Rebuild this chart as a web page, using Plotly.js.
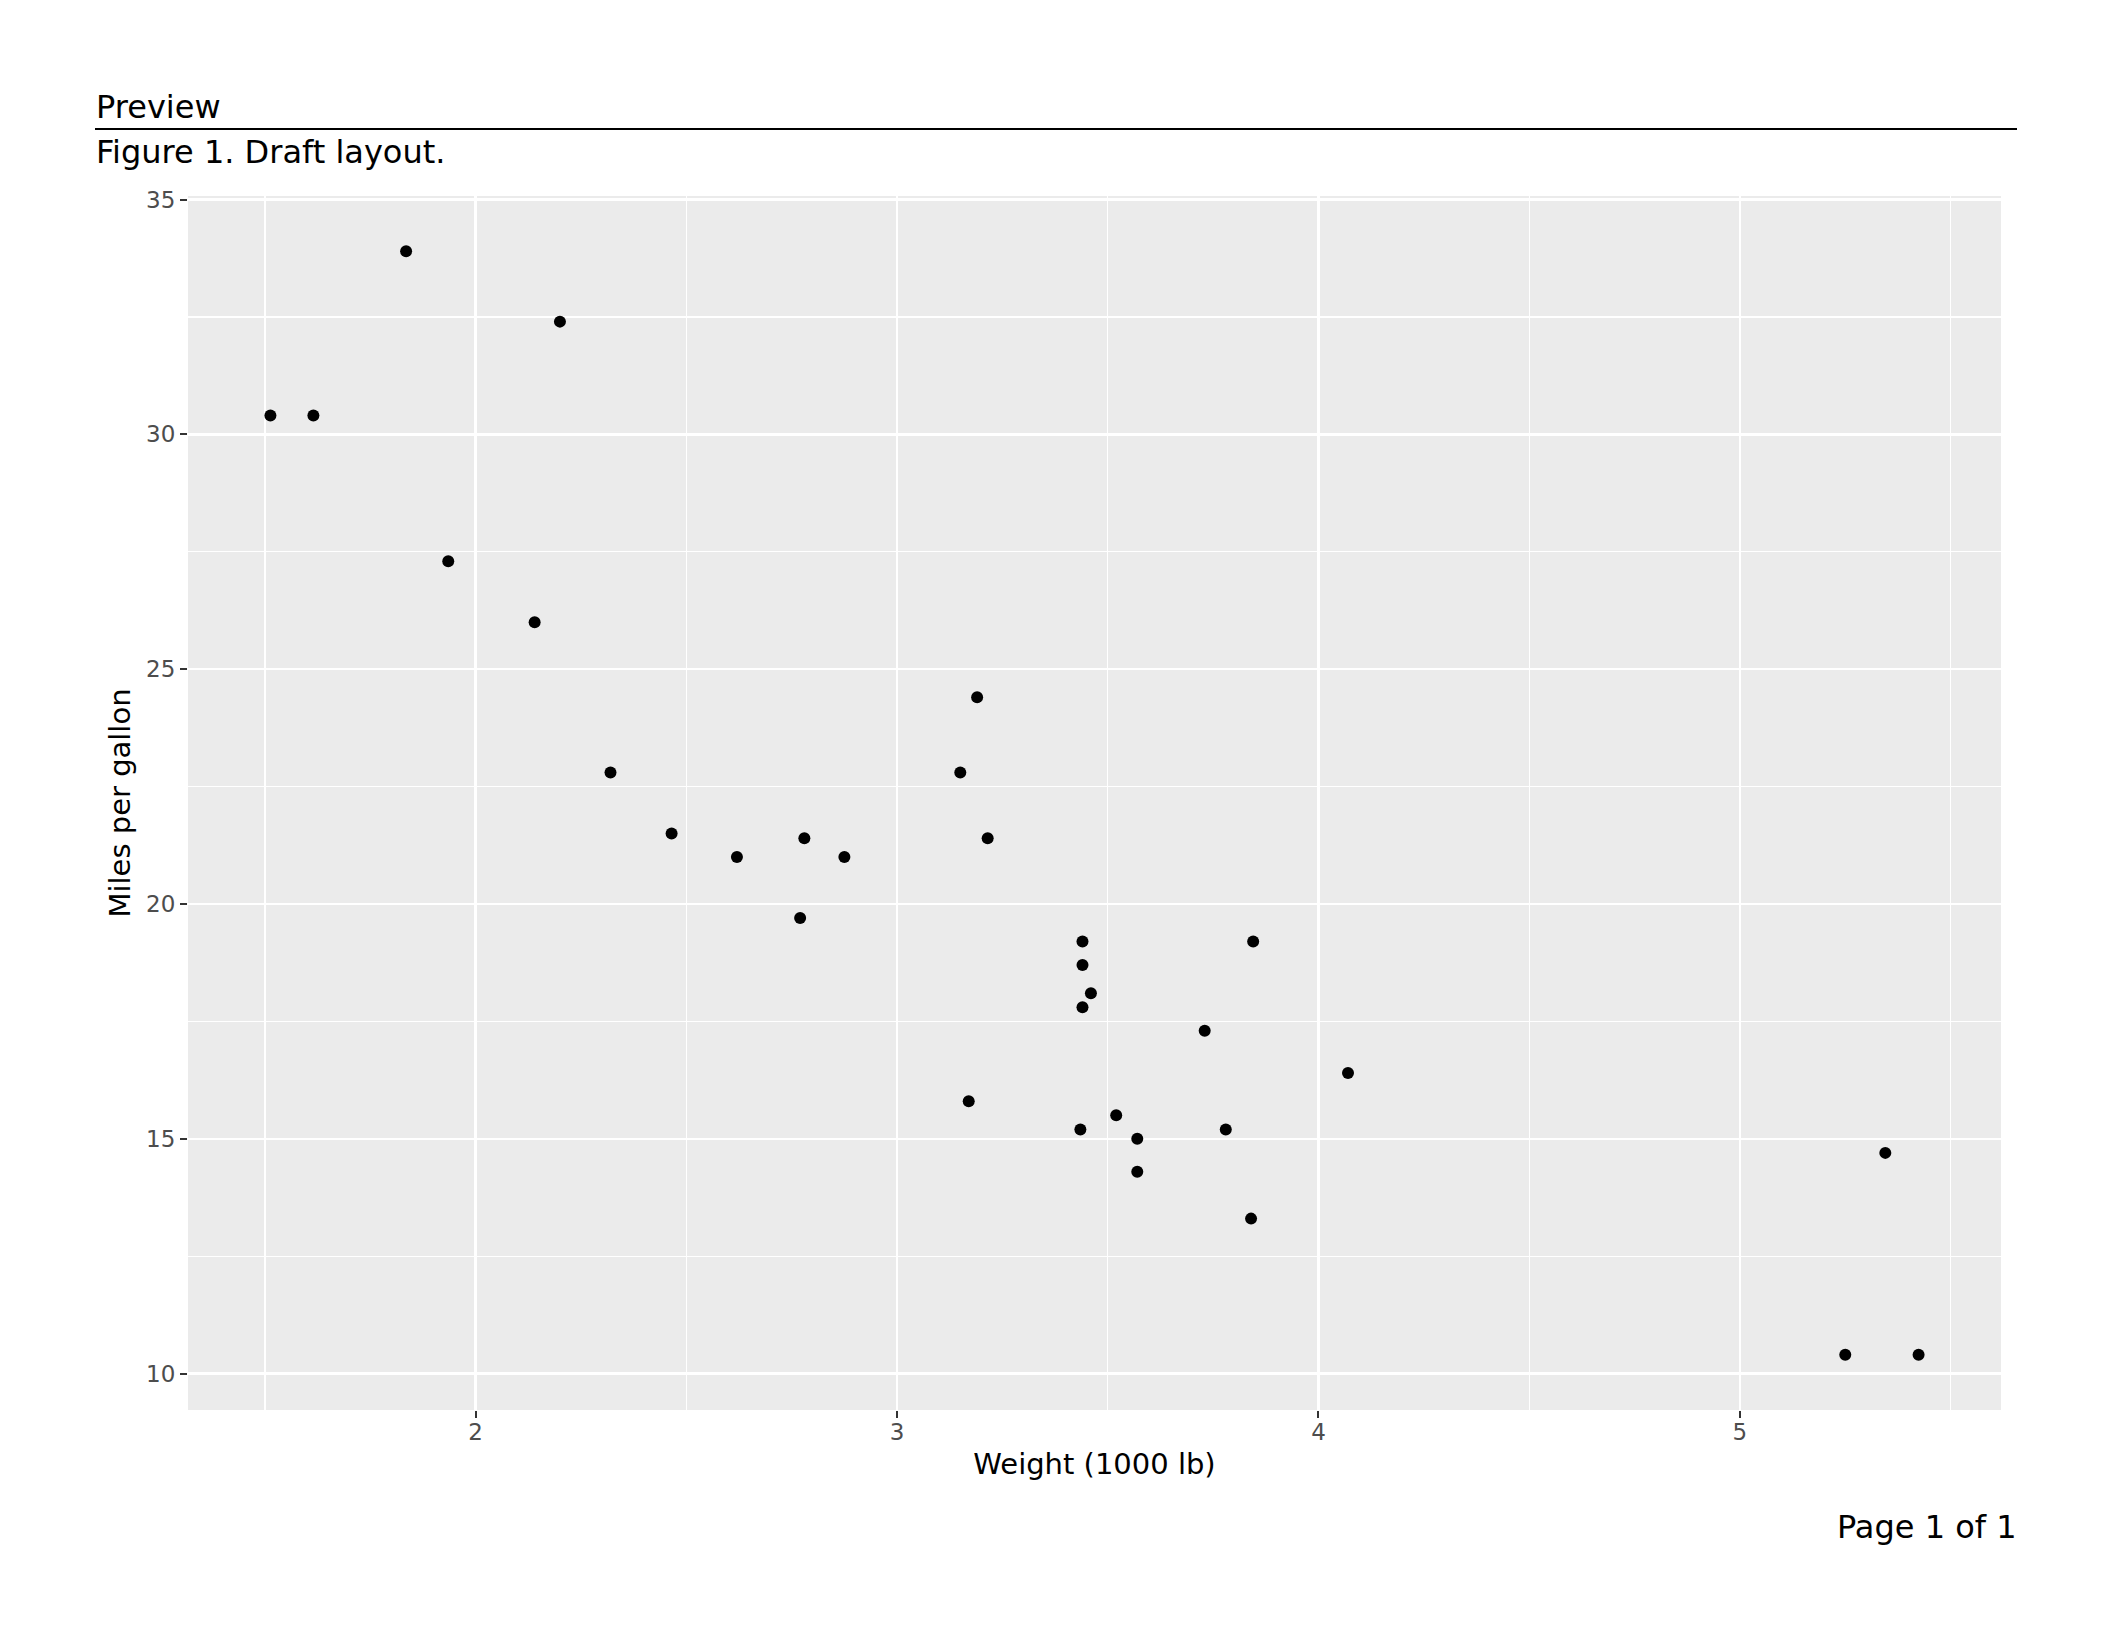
<!DOCTYPE html>
<html>
<head>
<meta charset="utf-8">
<script src="https://cdn.plot.ly/plotly-3.0.1.min.js"></script>
<style>html,body{margin:0;padding:0;background:#fff;}#chart{width:2112px;height:1632px;}</style>
</head>
<body>
<div id="chart"></div>
<script>
// mtcars: weight (1000 lb) and miles per gallon
var carNames = ["Mazda RX4","Mazda RX4 Wag","Datsun 710","Hornet 4 Drive","Hornet Sportabout","Valiant","Duster 360","Merc 240D","Merc 230","Merc 280","Merc 280C","Merc 450SE","Merc 450SL","Merc 450SLC","Cadillac Fleetwood","Lincoln Continental","Chrysler Imperial","Fiat 128","Honda Civic","Toyota Corolla","Toyota Corona","Dodge Challenger","AMC Javelin","Camaro Z28","Pontiac Firebird","Fiat X1-9","Porsche 914-2","Lotus Europa","Ford Pantera L","Ferrari Dino","Maserati Bora","Volvo 142E"];
var weight = [2.620,2.875,2.320,3.215,3.440,3.460,3.570,3.190,3.150,3.440,3.440,4.070,3.730,3.780,5.250,5.424,5.345,2.200,1.615,1.835,2.465,3.520,3.435,3.840,3.845,1.935,2.140,1.513,3.170,2.770,3.570,2.780];
var mpg = [21.0,21.0,22.8,21.4,18.7,18.1,14.3,24.4,22.8,19.2,17.8,16.4,17.3,15.2,10.4,10.4,14.7,32.4,30.4,33.9,21.5,15.5,15.2,13.3,19.2,27.3,26.0,30.4,15.8,19.7,15.0,21.4];
var xTickVals = [2,3,4,5];
var yTickVals = [10,15,20,25,30,35];

var W = 2112, H = 1632;
var M = {l:188, r:111, t:196, b:222};
var PW = W - M.l - M.r, PH = H - M.t - M.b;
function px(x){ return (x - M.l) / PW; }
function py(y){ return (H - M.b - y) / PH; }

// ggplot-style expansion of 5%
function expand(arr){ var mn=Math.min.apply(null,arr), mx=Math.max.apply(null,arr), d=(mx-mn)*0.05; return [mn-d, mx+d]; }

var font = "DejaVu Sans, sans-serif";

var trace = {
  type: 'scatter', mode: 'markers',
  x: weight, y: mpg, text: carNames,
  marker: {color: '#000000', size: 12, line: {width: 0}},
  hoverinfo: 'text+x+y'
};

var layout = {
  width: W, height: H,
  margin: M,
  paper_bgcolor: '#ffffff',
  plot_bgcolor: '#EBEBEB',
  showlegend: false,
  font: {family: font, color: '#000000'},
  xaxis: {
    range: expand(weight),
    tickvals: xTickVals, ticktext: xTickVals.map(String),
    showgrid: true, gridcolor: '#ffffff', gridwidth: 2.5,
    minor: {dtick: 0.5, tick0: 0, showgrid: true, gridcolor: '#ffffff', gridwidth: 1.2, ticklen: 0},
    zeroline: false, showline: false,
    ticks: 'outside', ticklen: 7, tickwidth: 2, tickcolor: '#333333',
    ticklabelstandoff: -6,
    tickfont: {family: font, size: 23, color: '#4D4D4D'},
    title: {text: 'Weight (1000 lb)', font: {family: font, size: 29, color: '#000000'}, standoff: 10},
    automargin: false
  },
  yaxis: {
    range: expand(mpg),
    tickvals: yTickVals, ticktext: yTickVals.map(String),
    showgrid: true, gridcolor: '#ffffff', gridwidth: 2.5,
    minor: {dtick: 2.5, tick0: 0, showgrid: true, gridcolor: '#ffffff', gridwidth: 1.2, ticklen: 0},
    zeroline: false, showline: false,
    ticks: 'outside', ticklen: 7, tickwidth: 2, tickcolor: '#333333',
    tickfont: {family: font, size: 23, color: '#4D4D4D'},
    title: {text: 'Miles per gallon', font: {family: font, size: 29, color: '#000000'}, standoff: 6},
    automargin: false
  },
  shapes: [
    {type: 'line', xref: 'paper', yref: 'paper', x0: px(95), x1: px(2017), y0: py(129), y1: py(129), line: {color: '#000000', width: 2}}
  ],
  annotations: [
    {text: 'Preview', xref: 'paper', yref: 'paper', x: px(94), y: py(128), xanchor: 'left', yanchor: 'bottom', showarrow: false, font: {family: font, size: 32, color: '#000000'}},
    {text: 'Figure 1. Draft layout.', xref: 'paper', yref: 'paper', x: px(94), y: py(131), xanchor: 'left', yanchor: 'top', showarrow: false, font: {family: font, size: 32, color: '#000000'}},
    {text: 'Page 1 of 1', xref: 'paper', yref: 'paper', x: px(2019), y: py(1548), xanchor: 'right', yanchor: 'bottom', showarrow: false, font: {family: font, size: 32, color: '#000000'}}
  ]
};

Plotly.newPlot('chart', [trace], layout, {displayModeBar: false, staticPlot: true});
</script>
</body>
</html>
